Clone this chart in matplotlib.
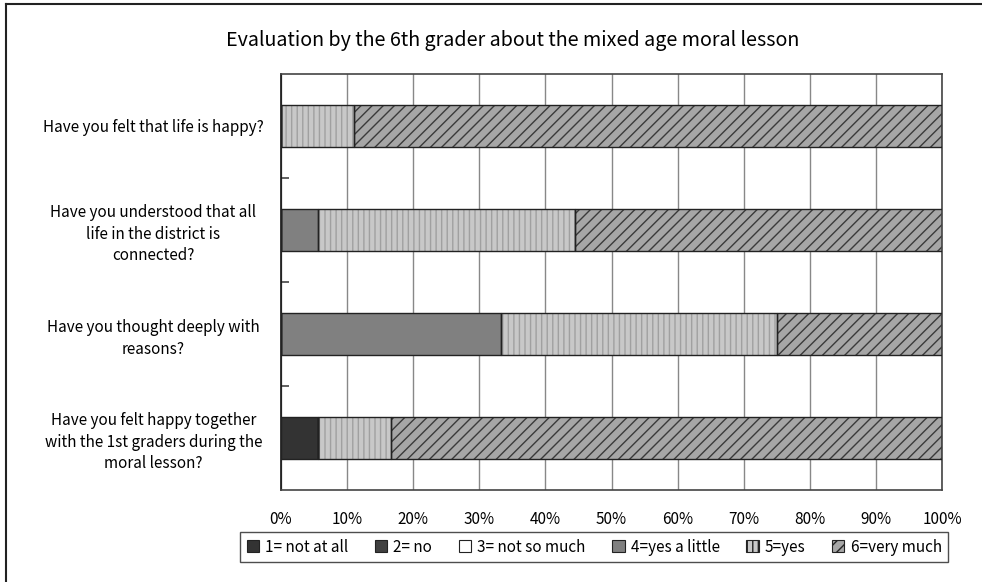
import matplotlib.pyplot as plt
from matplotlib.lines import Line2D
from matplotlib.patches import Patch
import numpy as np

plt.rcParams['font.family'] = ['Noto Sans CJK JP', 'DejaVu Sans']
plt.rcParams['hatch.linewidth'] = 1.0

questions = [
    "Have you felt that life is happy?",
    "Have you understood that all\nlife in the district is\nconnected?",
    "Have you thought deeply with\nreasons?",
    "Have you felt happy together\nwith the 1st graders during the\nmoral lesson?",
]
series_names = ["1= not at all", "2= no", "3= not so much", "4=yes a little", "5=yes", "6=very much"]
not_at_all = [0, 0, 0, 5.6]
no = [0, 0, 0, 0]
not_so_much = [0, 0, 0, 0]
yes_little = [0, 5.6, 33.3, 0]
yes = [11.1, 38.9, 41.7, 11.1]
very_much = [88.9, 55.6, 25.0, 83.3]

# face colour, hatch, hatch colour
styles = [
    ('#333333', None, None),
    ('#404040', None, None),
    ('#ffffff', None, None),
    ('#808080', None, None),
    ('#c8c8c8', '|||', '#a0a0a0'),
    ('#a6a6a6', '///', '#3a3a3a'),
]

fig = plt.figure(figsize=(9.82, 5.82), dpi=100)
ax = fig.add_axes([0.2862, 0.1581, 0.6731, 0.7148])

y = np.arange(len(questions))
left = np.zeros(len(questions))
all_series = [not_at_all, no, not_so_much, yes_little, yes, very_much]
handles = []
for vals, name, (fc, hatch, hc) in zip(all_series, series_names, styles):
    vals = np.array(vals)
    if hatch:
        ax.barh(y, vals, left=left, height=0.4, color=fc, hatch=hatch,
                edgecolor=hc, linewidth=0, zorder=2)
    else:
        ax.barh(y, vals, left=left, height=0.4, color=fc, linewidth=0, zorder=2)
    ax.barh(y, vals, left=left, height=0.4, fill=False, edgecolor='#222222',
            linewidth=1.0, zorder=3)
    left += vals
    handles.append(Patch(facecolor=fc, hatch=hatch, edgecolor='#222222', linewidth=0.8))

ax.set_xlim(0, 100)
ax.set_ylim(3.5, -0.5)
ax.set_xticks(np.arange(0, 101, 10))
ax.set_xticklabels([f"{t}%" for t in range(0, 101, 10)], fontsize=11)
ax.set_yticks(y)
ax.set_yticklabels(questions, fontsize=11, ha='center', multialignment='center',
                   linespacing=1.35)
ax.tick_params(axis='y', length=0, pad=92)
ax.tick_params(axis='x', length=0, pad=15)
ax.set_yticks([0.5, 1.5, 2.5], minor=True)
ax.tick_params(axis='y', which='minor', direction='in', length=6, width=1.2, color='#444444')
ax.grid(axis='x', color='#888888', linewidth=1.0, zorder=0)
ax.set_axisbelow(True)
for s in ax.spines.values():
    s.set_color('#444444')
    s.set_linewidth(1.2)
ax.spines['left'].set_color('#111111')

fig.text(0.522, 0.93, "Evaluation by the 6th grader about the mixed age moral lesson",
         ha='center', va='center', fontsize=14.2)

leg = fig.legend(handles, series_names, loc='center', bbox_to_anchor=(0.605, 0.06),
                 ncol=6, fontsize=11, frameon=True, fancybox=False,
                 handlelength=0.8, handleheight=0.8, handletextpad=0.4,
                 columnspacing=1.75, borderpad=0.4)
leg.get_frame().set_edgecolor('#222222')
leg.get_frame().set_linewidth(1.0)

# outer chart frame (left and top edges visible)
fig.add_artist(Line2D([6 / 982, 6 / 982], [0, 1 - 4 / 582], color='#222222', linewidth=1.5))
fig.add_artist(Line2D([6 / 982, 1], [1 - 4 / 582, 1 - 4 / 582], color='#222222', linewidth=1.5))

fig.savefig('out.png', dpi=100)
